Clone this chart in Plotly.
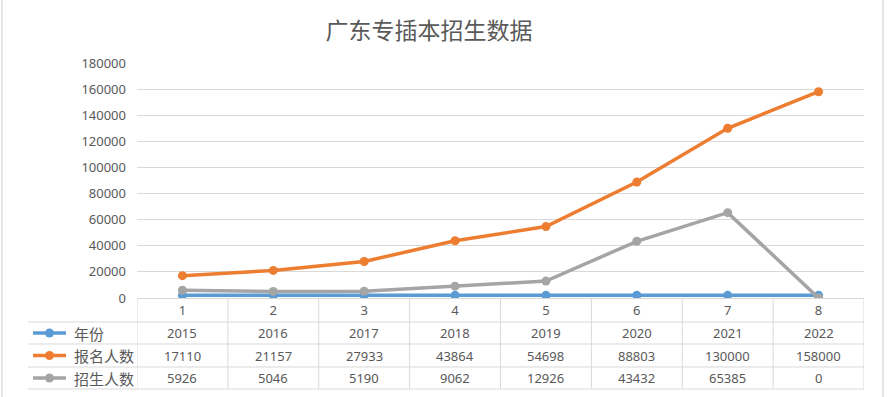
import plotly.graph_objects as go

categories = [1, 2, 3, 4, 5, 6, 7, 8]
series_names = ["年份", "报名人数", "招生人数"]
years = [2015, 2016, 2017, 2018, 2019, 2020, 2021, 2022]
applicants = [17110, 21157, 27933, 43864, 54698, 88803, 130000, 158000]
admitted = [5926, 5046, 5190, 9062, 12926, 43432, 65385, 0]
y_ticks = [0, 20000, 40000, 60000, 80000, 100000, 120000, 140000, 160000, 180000]
title_text = "广东专插本招生数据"

colors = ["#5B9BD5", "#ED7D31", "#A5A5A5"]
series_values = [years, applicants, admitted]

W, H = 887, 397
L, R, T, B = 137, 23, 63, 99
plot_h = H - T - B
plot_w = W - L - R
text_color = "#595959"
grid_color = "#D9D9D9"
font_num = "Noto Sans, DejaVu Sans, sans-serif"
font_cjk = "Noto Sans CJK SC, sans-serif"


def py(pixel_y):
    return (H - B - pixel_y) / plot_h


def px(pixel_x):
    return (pixel_x - L) / plot_w


fig = go.Figure()
for name, vals, col in zip(series_names, series_values, colors):
    fig.add_trace(go.Scatter(
        x=categories, y=vals, name=name, mode="lines+markers",
        line=dict(color=col, width=3.5),
        marker=dict(color=col, size=9),
        showlegend=False, hoverinfo="x+y+name",
    ))

shapes = []
annotations = []

row_lines = [322, 344, 367, 389]
for ry in row_lines:
    shapes.append(dict(type="line", xref="paper", yref="paper",
                       x0=px(28), x1=1, y0=py(ry), y1=py(ry),
                       line=dict(color=grid_color, width=1)))
for i in range(len(categories) + 1):
    xb = categories[0] - 0.5 + i
    shapes.append(dict(type="line", xref="x", yref="paper",
                       x0=xb, x1=xb, y0=0, y1=py(389),
                       line=dict(color=grid_color, width=1)))

row_centers = [333, 355.5, 378]
for r, (name, vals, col) in enumerate(zip(series_names, series_values, colors)):
    yc = py(row_centers[r])
    for c, v in zip(categories, vals):
        annotations.append(dict(x=c, y=yc, xref="x", yref="paper",
                                xanchor="center", yanchor="middle",
                                text=str(v), showarrow=False,
                                font=dict(family=font_num, size=13, color=text_color)))
    shapes.append(dict(type="line", xref="paper", yref="paper",
                       x0=px(33), x1=px(66), y0=yc, y1=yc,
                       line=dict(color=col, width=3.5)))
    shapes.append(dict(type="circle", xref="paper", yref="paper",
                       xsizemode="pixel", ysizemode="pixel",
                       xanchor=px(49.5), yanchor=yc,
                       x0=-4.5, x1=4.5, y0=-4.5, y1=4.5,
                       fillcolor=col, line=dict(color=col, width=0)))
    annotations.append(dict(x=px(72), y=yc, xref="paper", yref="paper",
                            xanchor="left", yanchor="middle",
                            text=name, showarrow=False,
                            font=dict(family=font_cjk, size=15, color=text_color)))

shapes.append(dict(type="line", xref="paper", yref="paper",
                   x0=px(2), x1=px(2), y0=py(0), y1=py(397),
                   line=dict(color="#E6E6E6", width=2)))
shapes.append(dict(type="line", xref="paper", yref="paper",
                   x0=px(883), x1=px(883), y0=py(0), y1=py(397),
                   line=dict(color="#E6E6E6", width=2)))

fig.update_layout(
    width=W, height=H,
    margin=dict(l=L, r=R, t=T, b=B),
    paper_bgcolor="white", plot_bgcolor="white",
    title=dict(text=title_text, x=429 / W, xanchor="center",
               y=1 - 31 / H, yanchor="middle",
               font=dict(family=font_cjk, size=23, color=text_color)),
    xaxis=dict(range=[0.5, 8.5], tickmode="array", tickvals=categories,
               ticktext=[str(c) for c in categories],
               showgrid=False, zeroline=False, showline=True,
               linecolor=grid_color, linewidth=1, ticks="",
               tickfont=dict(family=font_num, size=13, color=text_color),
               fixedrange=True),
    yaxis=dict(range=[0, 180000], tickmode="array", tickvals=y_ticks,
               ticktext=[str(t) for t in y_ticks],
               showgrid=True, gridcolor=grid_color, gridwidth=1,
               zeroline=False, showline=False, ticks="",
               ticklabelstandoff=10,
               tickfont=dict(family=font_num, size=13, color=text_color),
               fixedrange=True),
    shapes=shapes,
    annotations=annotations,
)

fig.write_html("out.html",
               config={"displayModeBar": False},
               post_script="document.body.style.margin='0';document.body.style.padding='0';")
